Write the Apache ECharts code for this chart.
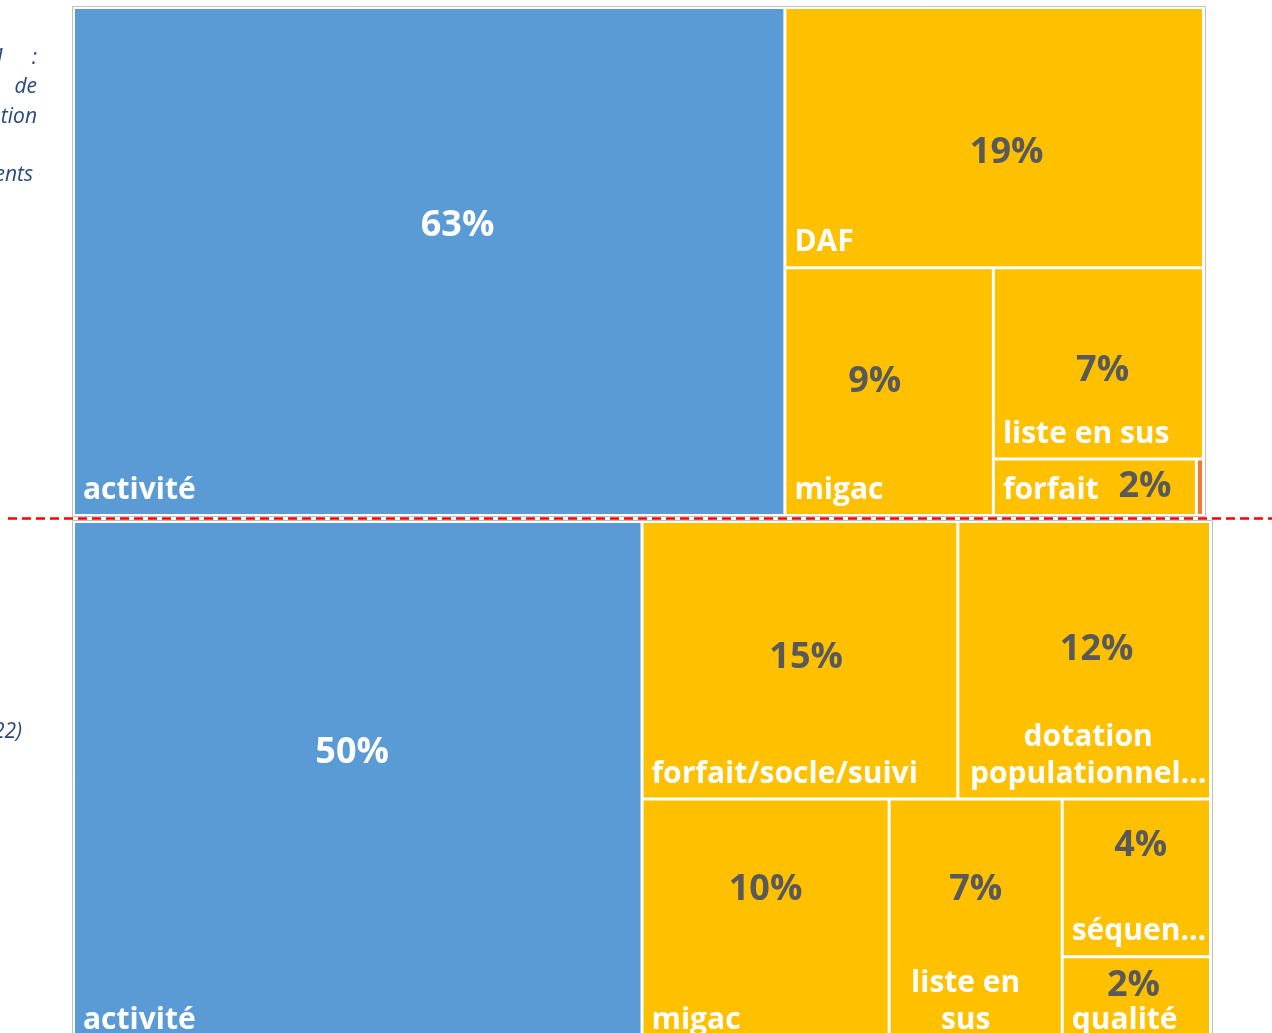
<!DOCTYPE html>
<html lang="fr">
<head>
<meta charset="utf-8">
<title>Treemap</title>
<script src="https://cdn.jsdelivr.net/npm/echarts@6/dist/echarts.min.js"></script>
<style>
html, body { margin: 0; padding: 0; background: #fff; overflow: hidden; }
#chart { width: 1272px; height: 1033px; }
</style>
</head>
<body>
<div id="chart"></div>
<script>
// ---------------- Data ----------------
const topCategories = ['activité', 'DAF', 'migac', 'liste en sus', 'forfait', 'autre'];
const topValues = [63, 19, 9, 7, 2, 0.07];

const bottomCategories = ['activité', 'forfait/socle/suivi', 'dotation populationnel...', 'migac', 'liste en sus', 'séquen...', 'qualité'];
const bottomValues = [50, 15, 12, 10, 7, 4, 2];

// bottom panel: left column, upper band, lower band (indices into bottomCategories)
const bottomBlocks = [[0], [1, 2], [3, 4, 5, 6]];

// label texts
const topHiddenLabels = ['autre'];
const bottomWrappedLabels = {
  'dotation populationnel...': 'dotation\npopulationnel...',
  'liste en sus': 'liste en\nsus'
};
const sideTexts = ['1', ':', 'de', 'tion', 'ents', '22)'];

// ---------------- Styles / layout ----------------
const BLUE = '#5B9BD5', GOLD = '#FFC000', ORANGE = '#ED7D31', NONE = 'rgba(0,0,0,0)';
const topColors = [BLUE, GOLD, GOLD, GOLD, GOLD, ORANGE];
const bottomColors = [BLUE, GOLD, GOLD, GOLD, GOLD, GOLD, GOLD];
const valueColorOn = c => (c === BLUE ? '#FFFFFF' : '#595959');
const topBox = { left: 73.5, top: 7.5, width: 1130, height: 508 };
const bottomBox = { left: 73.5, top: 521.5, width: 1137, height: 514 };
const topValuePos = {
  'activité': ['54%', '43%'], 'DAF': ['53%', '56%'], 'migac': ['43%', '46%'],
  'liste en sus': ['52%', '54%'], 'forfait': ['75%', '50%']
};
const bottomValuePos = {
  'activité': ['49%', '45%'], 'forfait/socle/suivi': ['52%', '49%'],
  'dotation populationnel...': ['55%', '46%'], 'migac': ['50%', '38%'],
  'liste en sus': ['50%', '38%'], 'séquen...': ['53%', '29%'], 'qualité': ['48%', '36%']
};
// names sitting on the cut-off lower edge are drawn a little lower
const bottomNameOffset = { 'activité': [0, 10], 'migac': [0, 10], 'liste en sus': [-14, 10], 'qualité': [0, 10] };
const sidePos = [
  { x: 5, y: 58 }, { x: 37, y: 58 }, { x: 37, y: 87 }, { x: 37, y: 117 }, { x: 33, y: 175 }, { x: 22, y: 732 }
];
const FONT = '"Open Sans", "DejaVu Sans", sans-serif';

// ---------------- Build ----------------
function treemapPair(box, items, valuePos, wrapped, nameOffset) {
  const common = {
    type: 'treemap',
    left: box.left, top: box.top, width: box.width, height: box.height,
    roam: false, nodeClick: false, silent: true, animation: false,
    breadcrumb: { show: false }, visibleMin: 0, sort: false, squareRatio: 1,
    upperLabel: { show: false }, emphasis: { disabled: true },
    levels: [{ itemStyle: { borderWidth: 0, gapWidth: 0 } }]
  };
  const names = Object.assign({}, common, {
    label: {
      show: true, position: 'insideBottomLeft', distance: 0, padding: [5, 0, 5, 8],
      color: '#fff', fontFamily: FONT, fontWeight: 'bold', fontSize: 30, lineHeight: 37,
      formatter: p => wrapped[p.name] || p.name
    },
    data: items.map(it => {
      let lab = {};
      if (it.noLabel) lab = { show: false };
      else {
        if (wrapped[it.name]) Object.assign(lab, { position: 'insideBottom', align: 'center' });
        if (nameOffset[it.name]) lab.offset = nameOffset[it.name];
      }
      return {
        name: it.name, value: it.value,
        itemStyle: { color: it.color, borderColor: it.ghost ? NONE : '#fff', borderWidth: 1.5 },
        label: lab
      };
    })
  });
  const vals = Object.assign({}, common, {
    label: {
      show: true, position: ['51%', '46%'], align: 'center', verticalAlign: 'middle', distance: 0, padding: 0,
      color: '#595959', fontFamily: FONT, fontWeight: 'bold', fontSize: 36,
      formatter: p => p.value + '%'
    },
    data: items.map(it => ({
      name: it.name, value: it.value,
      itemStyle: { color: NONE, borderColor: NONE, borderWidth: 1.5 },
      label: it.noLabel ? { show: false } : Object.assign(
        { color: valueColorOn(it.color) },
        valuePos[it.name] ? { position: valuePos[it.name] } : {}
      )
    }))
  });
  return [names, vals];
}

const topItems = topCategories.map((n, i) => ({
  name: n, value: topValues[i], color: topColors[i], noLabel: topHiddenLabels.indexOf(n) >= 0
}));
const bottomItem = i => ({ name: bottomCategories[i], value: bottomValues[i], color: bottomColors[i] });
const sumOf = idx => idx.reduce((s, i) => s + bottomValues[i], 0);
const bottomTotal = bottomValues.reduce((s, v) => s + v, 0);
const mainValue = sumOf(bottomBlocks[0]);
const restValue = bottomTotal - mainValue;
const restLeft = bottomBox.left + bottomBox.width * mainValue / bottomTotal;
const restWidth = bottomBox.left + bottomBox.width - restLeft;

let series = [];
series = series.concat(treemapPair(topBox, topItems, topValuePos, {}, {}));
series = series.concat(treemapPair(
  bottomBox,
  bottomBlocks[0].map(bottomItem).concat([{ name: 'reste', value: restValue, color: NONE, ghost: true, noLabel: true }]),
  bottomValuePos, bottomWrappedLabels, bottomNameOffset
));
let yCursor = bottomBox.top;
bottomBlocks.slice(1).forEach(block => {
  const h = bottomBox.height * sumOf(block) / restValue;
  series = series.concat(treemapPair(
    { left: restLeft, top: yCursor, width: restWidth, height: h },
    block.map(bottomItem), bottomValuePos, bottomWrappedLabels, bottomNameOffset
  ));
  yCursor += h;
});

const frameColor = '#BFBFBF';
const graphic = [
  { type: 'rect', silent: true, z: 0,
    shape: { x: topBox.left - 1, y: topBox.top - 1, width: topBox.width + 3, height: topBox.height + 2 },
    style: { fill: NONE, stroke: frameColor, lineWidth: 1 } },
  { type: 'rect', silent: true, z: 0,
    shape: { x: bottomBox.left - 1, y: bottomBox.top - 1, width: bottomBox.width + 3, height: bottomBox.height + 60 },
    style: { fill: NONE, stroke: frameColor, lineWidth: 1 } },
  { type: 'line', silent: true, z: 100,
    shape: { x1: 8, y1: 518.5, x2: 1272, y2: 518.5 },
    style: { stroke: '#FF0000', lineWidth: 2.5, lineDash: [9, 5] } }
];
sideTexts.forEach((t, i) => {
  graphic.push({
    type: 'text', silent: true, z: 50,
    style: {
      text: t, x: sidePos[i].x, y: sidePos[i].y,
      font: 'italic 21px "Open Sans", sans-serif', fill: '#284A7E',
      align: 'right', verticalAlign: 'middle', textAlign: 'right', textVerticalAlign: 'middle'
    }
  });
});

const chart = echarts.init(document.getElementById('chart'), null, { renderer: 'canvas' });
chart.setOption({ animation: false, backgroundColor: '#fff', series: series, graphic: graphic });
</script>
</body>
</html>
